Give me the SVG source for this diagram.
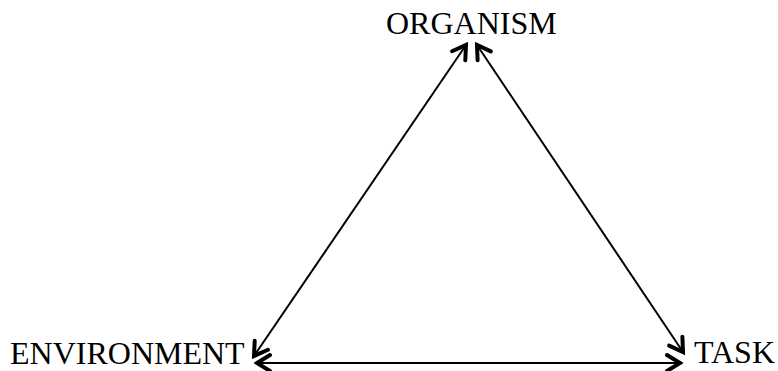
<svg xmlns="http://www.w3.org/2000/svg" width="778" height="371" viewBox="0 0 778 371">
<style>
.lbl{font-family:"Liberation Serif","Times New Roman",serif;font-size:32px;fill:#000}
.conn{stroke:#000;stroke-width:2;fill:none}
</style>
<defs>
<marker id="ah" viewBox="-16 -11 19 22" refX="0" refY="0" markerWidth="19" markerHeight="22" markerUnits="userSpaceOnUse" orient="auto-start-reverse">
<path d="M -13 -8 L 0 0 L -13 8" fill="none" stroke="#000" stroke-width="4" stroke-linecap="round" stroke-linejoin="miter"/>
</marker>
</defs>
<rect width="778" height="371" fill="#fff"/>
<g id="connectors">
<line class="conn" x1="466" y1="45" x2="254" y2="356" marker-start="url(#ah)" marker-end="url(#ah)"/>
<line class="conn" x1="477" y1="45" x2="683" y2="352" marker-start="url(#ah)" marker-end="url(#ah)"/>
<line class="conn" x1="257" y1="363" x2="680" y2="363" marker-start="url(#ah)" marker-end="url(#ah)"/>
</g>
<g id="organism"><text class="lbl" x="386" y="34">ORGANISM</text></g>
<g id="environment"><text class="lbl" x="10" y="364">ENVIRONMENT</text></g>
<g id="task"><text class="lbl" x="694" y="363">TASK</text></g>
</svg>
